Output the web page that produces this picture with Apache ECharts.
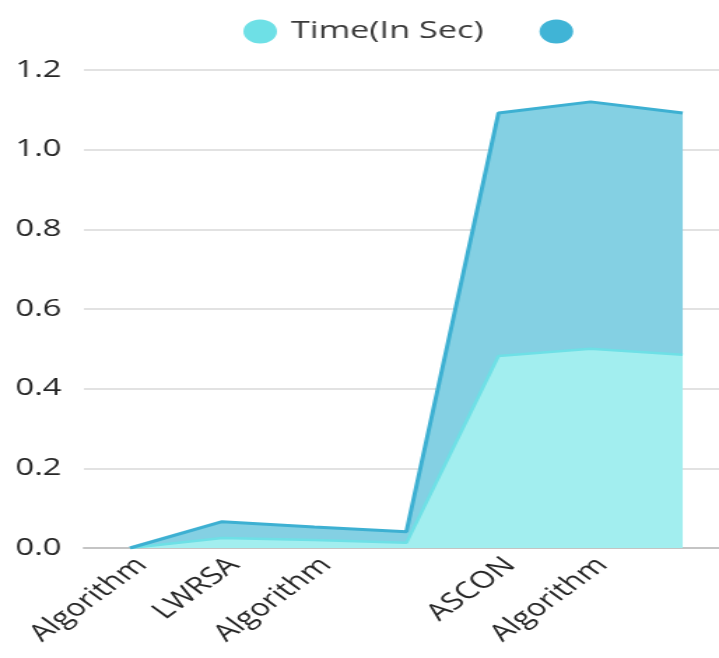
<!DOCTYPE html>
<html>
<head>
<meta charset="utf-8">
<script src="https://cdn.jsdelivr.net/npm/echarts@6/dist/echarts.min.js"></script>
<style>
  html, body { margin: 0; padding: 0; background: #fff; overflow: hidden; width: 719px; height: 658px; }
  /* the reference is stretched sideways, so the chart is drawn narrow and widened */
  #main { width: 530px; height: 658px; transform: scaleX(1.3988); transform-origin: 0 0; }
</style>
</head>
<body>
<div id="main"></div>
<script>
// x categories (last tick has no label in the reference)
const categories = ['Algorithm', 'LWRSA', 'Algorithm', '', 'ASCON', 'Algorithm', '']
// lower layer: Time(In Sec)
const timeValues = [0, 0.025, 0.02, 0.013, 0.482, 0.5, 0.485]
// upper layer, stacked on top (unlabelled in the legend)
const secondValues = [0, 0.041, 0.033, 0.028, 0.61, 0.62, 0.607]
const yTicks = { min: 0, max: 1.2, step: 0.2 }

const chartDom = document.getElementById('main')
const myChart = echarts.init(chartDom)
const font = "'Open Sans', 'Noto Sans', sans-serif"

const option = {
  animation: false,
  color: ['#6ee0e6', '#40b4d6'],
  legend: {
    left: 169,
    top: 14,
    itemWidth: 24,
    itemHeight: 24,
    itemGap: 40,
    icon: 'circle',
    textStyle: {
      fontFamily: font,
      fontSize: 24.5,
      color: '#3a3a3a',
      padding: [0, 0, 0, 5]
    },
    data: ['Time(In Sec)', ' ']
  },
  grid: {
    left: 60,
    width: 461,
    top: 70,
    height: 478
  },
  xAxis: {
    type: 'category',
    boundaryGap: true,
    data: categories,
    axisTick: { show: false },
    axisLine: {
      lineStyle: { color: '#c4c4c4', width: 2 }
    },
    axisLabel: {
      interval: 0,
      rotate: 45,
      align: 'right',
      verticalAlign: 'top',
      margin: 5,
      fontFamily: font,
      fontSize: 23.5,
      color: '#262626'
    }
  },
  yAxis: {
    type: 'value',
    min: yTicks.min,
    max: yTicks.max,
    interval: yTicks.step,
    axisLine: { show: false },
    axisTick: { show: false },
    splitLine: {
      lineStyle: { color: '#d8d8d8', width: 1.5 }
    },
    axisLabel: {
      margin: 16,
      fontFamily: font,
      fontSize: 23.5,
      color: '#262626',
      formatter: function (v) {
        return v.toFixed(1)
      }
    }
  },
  series: [
    {
      name: 'Time(In Sec)',
      type: 'line',
      stack: 'total',
      data: timeValues,
      symbol: 'none',
      lineStyle: { color: '#6ee0e6', width: 2.5 },
      areaStyle: { color: '#a2eeef', opacity: 1 }
    },
    {
      name: ' ',
      type: 'line',
      stack: 'total',
      data: secondValues,
      symbol: 'none',
      lineStyle: { color: '#3db0d2', width: 3 },
      areaStyle: { color: '#84d0e3', opacity: 1 }
    }
  ]
}
option && myChart.setOption(option)
</script>
</body>
</html>
